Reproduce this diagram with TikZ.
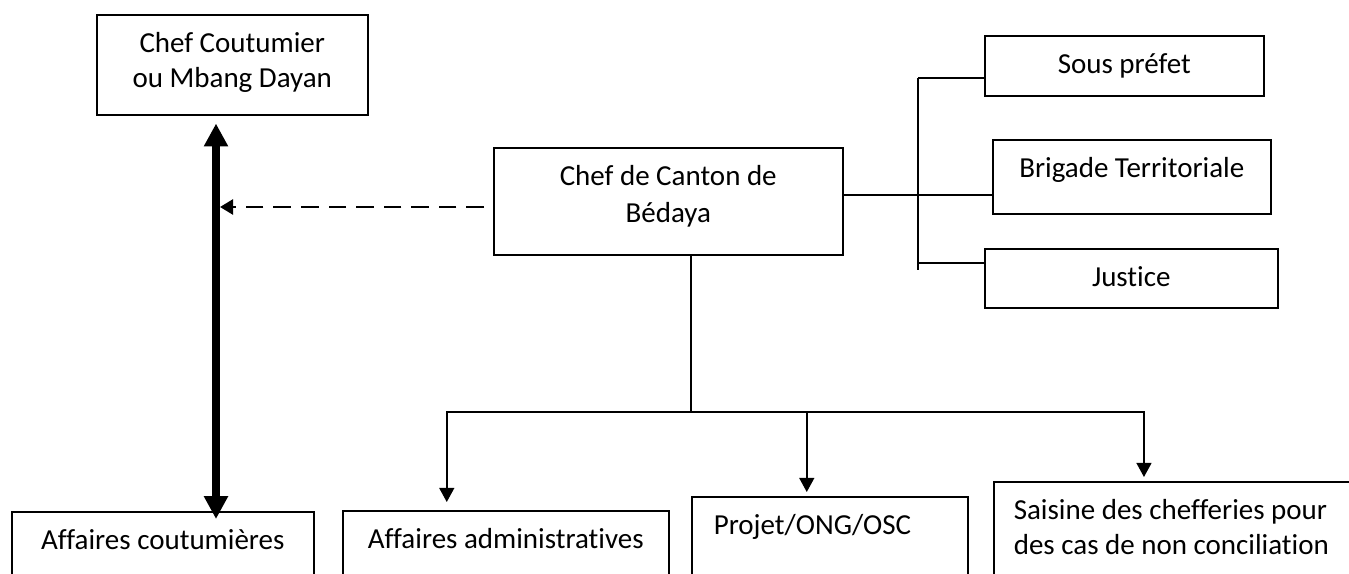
\documentclass[tikz,border=0pt]{standalone}
\usepackage{fontspec}
\setmainfont[RawFeature={-liga;-clig;-calt;-dlig}]{Carlito}
\usetikzlibrary{arrows.meta}
\begin{document}
\begin{tikzpicture}[x=0.02cm,y=-0.02cm,
	boite/.style={draw,line width=0.9pt,anchor=north west,inner sep=0pt,text height=0.76cm,align=flush center,font=\fontsize{16.5}{19.8}\selectfont},
	trait/.style={line width=0.75pt},
	fleche/.style={line width=0.9pt,-{Triangle[length=8pt,width=8.5pt]}}]
	\useasboundingbox (0,0) rectangle (1349,574);
	%Chefferies
	\node [boite,text width=5.42cm,text depth=1.24cm] (coutumier) at (96,14) {Chef Coutumier\\ou Mbang Dayan};
	\node [boite,text width=6.98cm,text depth=1.38cm] (canton) at (493,147) {Chef de Canton de\\[1pt]Bédaya};
	%Administration
	\node [boite,text width=5.58cm,text depth=0.44cm] (souspref) at (984,35) {Sous préfet};
	\node [boite,text width=5.56cm,text depth=0.72cm] (brigade) at (992,139) {Brigade Territoriale};
	\node [boite,text width=5.86cm,text depth=0.42cm] (justice) at (984,248) {Justice};
	%Affaires
	\node [boite,text width=6.04cm,text depth=2cm] (coutumieres) at (11,511) {Affaires coutumières};
	\node [boite,text width=6.52cm,text depth=2cm] (admin) at (342,510) {Affaires administratives};
	\node [boite,align=flush left,inner xsep=0.44cm,text width=4.64cm,text depth=2cm] (projet) at (691,496) {Projet/ONG/OSC};
	\node [boite,align=flush left,inner xsep=0.4cm,text width=6.8cm,text depth=2cm] (saisine) at (993,481) {Saisine des chefferies pour\\des cas de non conciliation};
	%Fleche double
	\coordinate (axe) at (216,0);
	\draw [line width=4.3pt,{Triangle[length=13pt,width=13pt]}-{Triangle[length=13pt,width=13pt]},shorten <=0.16cm,shorten >=-0.16cm] (coutumier.south -| axe) -- (coutumieres.north -| axe);
	\coordinate (contact) at (220,207);
	\draw [line width=1.5pt,dash pattern=on 10pt off 5.7pt,-{Triangle[length=7.4pt,width=8.5pt]},shorten <=0.18cm] (contact -| canton.west) -- (contact);
	%Liaisons a droite
	\coordinate (bus) at (918,195);
	\coordinate (bushaut) at (918,78);
	\coordinate (busbas) at (918,270);
	\coordinate (busjustice) at (918,263);
	\draw [trait] (canton.east |- bus) -- (brigade.west |- bus);
	\draw [trait] (bushaut) -- (busbas);
	\draw [trait] (bushaut) -- (souspref.west |- bushaut);
	\draw [trait] (busjustice) -- (justice.west |- busjustice);
	%Liaisons en bas
	\coordinate (rail) at (691,412);
	\draw [trait] (canton.south -| rail) -- (rail);
	\draw [fleche,shorten >=0.16cm] (rail) -| ([xshift=-1.18cm]admin.north);
	\draw [fleche,shorten >=0.08cm] (rail) -| ([xshift=-0.46cm]projet.north);
	\draw [fleche,shorten >=0.08cm] (rail) -| ([xshift=3.02cm]saisine.north west);
\end{tikzpicture}
\end{document}
